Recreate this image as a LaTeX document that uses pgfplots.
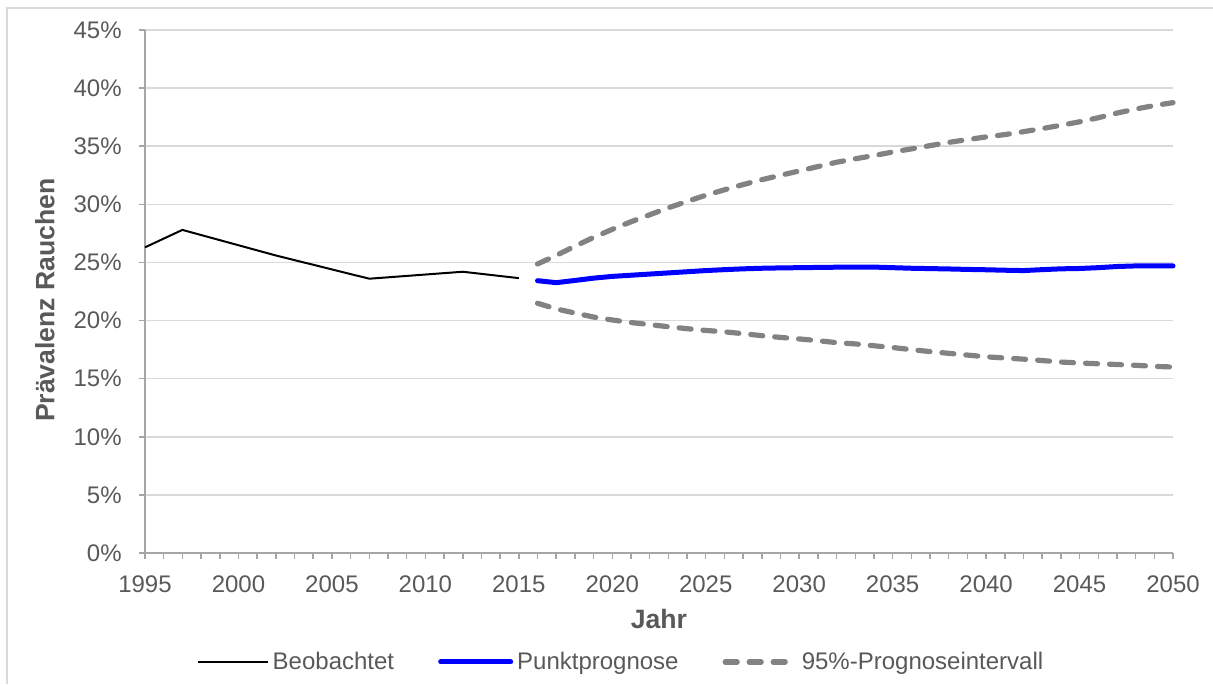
\documentclass[border=0pt]{standalone}
\usepackage{pgfplots}
\pgfplotsset{compat=1.18}
\usepackage{fontspec}
\setmainfont{Liberation Sans}
\definecolor{txtgray}{HTML}{595959}
\definecolor{gridgray}{HTML}{D9D9D9}
\definecolor{axgray}{HTML}{A6A6A6}
\definecolor{ciGray}{HTML}{828282}

\pgfplotstableread{
jahr wert
1995 26.3
1997 27.8
2002 25.6
2007 23.6
2012 24.2
2015 23.65
}\beobachtet

\pgfplotstableread{
jahr punkt oben unten
2016 23.43 24.87 21.49
2017 23.26 25.60 21.00
2018 23.45 26.40 20.65
2019 23.65 27.15 20.30
2020 23.80 27.85 20.05
2021 23.90 28.50 19.83
2022 24.00 29.10 19.65
2023 24.10 29.70 19.47
2024 24.20 30.25 19.30
2025 24.30 30.78 19.15
2026 24.38 31.25 19.03
2027 24.45 31.70 18.87
2028 24.50 32.12 18.70
2029 24.53 32.50 18.55
2030 24.55 32.87 18.42
2031 24.57 33.25 18.27
2032 24.59 33.62 18.10
2033 24.60 33.92 17.99
2034 24.60 34.20 17.83
2035 24.55 34.50 17.68
2036 24.50 34.77 17.50
2037 24.47 35.05 17.33
2038 24.44 35.33 17.18
2039 24.40 35.57 17.03
2040 24.37 35.80 16.88
2041 24.33 36.00 16.78
2042 24.30 36.25 16.68
2043 24.38 36.52 16.56
2044 24.45 36.80 16.43
2045 24.48 37.10 16.35
2046 24.55 37.45 16.28
2047 24.65 37.85 16.22
2048 24.70 38.20 16.15
2049 24.70 38.50 16.06
2050 24.70 38.75 16.00
}\prognose

\begin{document}
\begin{tikzpicture}
\useasboundingbox (0,0) rectangle (606.5pt,342pt);
% Rahmen (nur links und oben sichtbar)
\draw[gridgray, line width=0.75pt] (3.5pt,0) -- (3.5pt,338pt) -- (606.5pt,338pt);

\begin{axis}[
  at={(72.5pt,65.5pt)}, anchor=south west,
  scale only axis,
  width=514pt, height=261.5pt,
  xmin=1995, xmax=2050,
  ymin=0, ymax=45,
  axis lines*=left,
  axis line style={axgray, line width=0.75pt},
  xtick={1995,2000,...,2050},
  minor x tick num=4,
  ytick={0,5,...,45},
  tick align=outside,
  tick style={axgray, line width=0.75pt},
  major tick length=3pt,
  minor tick length=3pt,
  ymajorgrids,
  grid style={gridgray, line width=0.75pt},
  /pgf/number format/1000 sep={},
  /pgf/number format/assume math mode=true,
  tick label style={font=\fontsize{12}{14}\selectfont, text=txtgray},
  yticklabel={\pgfmathprintnumber{\tick}\%},
  yticklabel style={anchor=east, inner sep=0pt, xshift=-8.5pt},
  xticklabel style={anchor=north, inner sep=0pt, yshift=-8pt},
  xlabel={Jahr},
  ylabel={Prävalenz Rauchen},
  label style={font=\fontsize{13.3}{15}\selectfont\bfseries, text=txtgray},
  xlabel style={at={(axis description cs:0.5,-0.126)}, anchor=center},
  ylabel style={at={(axis description cs:-0.0973,0.4837)}, anchor=center},
  legend columns=3,
  legend style={
    at={(axis description cs:0.464,-0.2084)}, anchor=center,
    draw=none, fill=none,
    font=\fontsize{12}{14}\selectfont, text=txtgray,
    /tikz/every even column/.append style={column sep=20pt},
    inner sep=0pt,
  },
  legend cell align=left,
  legend image code/.code={\draw[#1] (0pt,0pt) -- (35pt,0pt);},
  clip=false,
]
\addplot[black, line width=1pt, line join=round] table[x=jahr, y=wert] {\beobachtet};
\addlegendentry{Beobachtet}
\addplot[blue, line width=2.5pt, line cap=round, line join=round] table[x=jahr, y=punkt] {\prognose};
\addlegendentry{Punktprognose}
\addplot[ciGray, line width=2.6pt, line cap=round, line join=round, dash pattern=on 6pt off 6pt] table[x=jahr, y=oben] {\prognose};
\addlegendentry{95\%-Prognoseintervall}
\addplot[ciGray, line width=2.6pt, line cap=round, line join=round, dash pattern=on 6pt off 6pt, forget plot] table[x=jahr, y=unten] {\prognose};
\end{axis}
\end{tikzpicture}
\end{document}
